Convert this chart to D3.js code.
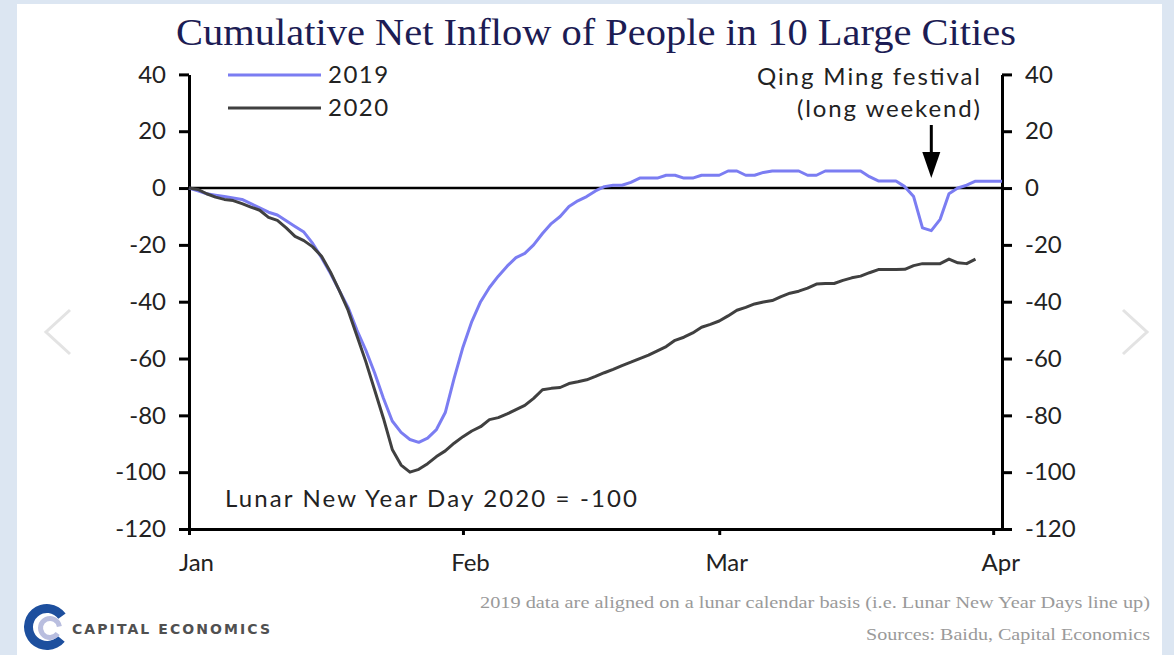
<!DOCTYPE html>
<html>
<head>
<meta charset="utf-8">
<script src="https://cdn.jsdelivr.net/npm/d3@7.9.0/dist/d3.min.js"></script>
<style>
  html, body { margin: 0; padding: 0; background: #dce6f2; }
  svg { display: block; }
</style>
</head>
<body>
<svg id="chart" width="1174" height="655"></svg>
<script>
// Data (cumulative net inflow, index: Lunar New Year Day 2020 = -100), one value per day from 1 Jan
const series2019 = [
  0, -1, -2, -2.5, -3, -3.5, -4, -5.5, -7, -8.5,
  -9.5, -11.5, -13.5, -15.5, -19.5, -24.5, -30, -36, -42, -50,
  -57, -65, -74, -82, -86, -88.5, -89.5, -88, -85, -79,
  -67, -56, -47, -40, -35, -31, -27.5, -24.5, -23, -20,
  -16, -12.5, -10, -6.5, -4.5, -3, -1, 0.5, 1, 1,
  2, 3.5, 3.5, 3.5, 4.5, 4.5, 3.5, 3.5, 4.5, 4.5,
  4.5, 6, 6, 4.5, 4.5, 5.5, 6, 6, 6, 6,
  4.5, 4.5, 6, 6, 6, 6, 6, 4, 2.5, 2.5,
  2.5, 0.5, -3, -14, -15, -11, -2, 0, 1, 2.4,
  2.4, 2.4, 2.4
];
const series2020 = [
  0, -0.5, -2, -3.2, -4, -4.4, -5.5, -6.7, -7.8, -10.3,
  -11.4, -14, -17, -18.5, -20.7, -24, -29.5, -36, -43, -52,
  -61, -71, -81, -92, -97.5, -100, -99, -97, -94.5, -92.5,
  -89.8, -87.5, -85.5, -84, -81.5, -80.8, -79.5, -78, -76.5, -74,
  -71, -70.5, -70.2, -68.8, -68.2, -67.5, -66.3, -65, -63.8, -62.5,
  -61.3, -60, -58.8, -57.3, -55.8, -53.6, -52.5, -51, -49, -48,
  -46.8, -45, -43, -42, -40.8, -40.1, -39.6, -38.2, -37, -36.3,
  -35.2, -33.8, -33.6, -33.6, -32.5, -31.6, -31, -29.8, -28.7, -28.7,
  -28.7, -28.6, -27.3, -26.6, -26.6, -26.6, -25, -26.3, -26.6, -25
];
const seriesNames = ["2019", "2020"];
const seriesColors = ["#7b7df2", "#404040"];
const yTicks = [40, 20, 0, -20, -40, -60, -80, -100, -120];
const monthLabels = ["Jan", "Feb", "Mar", "Apr"];
const qingMingDay = 84;

const svg = d3.select("#chart");
const W = 1174, H = 655;
const plotLeft = 189, plotRight = 1002, plotTop = 74.4, plotBottom = 529;
const axisFont = "Lato, 'Open Sans', sans-serif";
const serifFont = "'Liberation Serif', 'DejaVu Serif', serif";

// white panel
svg.append("rect").attr("x", 17).attr("y", 4).attr("width", 1145).attr("height", H - 4).attr("fill", "#fff");

// carousel chevrons
const chev = svg.append("g").attr("fill", "none").attr("stroke", "#e3e3e3").attr("stroke-width", 3);
chev.append("path").attr("d", "M70,310 L46,332 L70,354");
chev.append("path").attr("d", "M1123,310 L1147,332 L1123,354");

const start = new Date(2020, 0, 1);
const day = i => d3.timeDay.offset(start, i);

const x = d3.scaleTime().domain([start, day(92)]).range([plotLeft, plotRight]);
const y = d3.scaleLinear().domain([-120, 40]).range([plotBottom, plotTop]);

// title
svg.append("text")
  .attr("x", 596).attr("y", 45)
  .attr("text-anchor", "middle")
  .attr("font-family", serifFont)
  .attr("font-size", 37)
  .attr("fill", "#1c1c54")
  .attr("textLength", 840)
  .attr("lengthAdjust", "spacingAndGlyphs")
  .text("Cumulative Net Inflow of People in 10 Large Cities");

// axes
const fmt = d => String(d);
const yl = svg.append("g").attr("transform", `translate(${plotLeft},0)`)
  .call(d3.axisLeft(y).tickValues(yTicks).tickFormat(fmt).tickSizeInner(10).tickSizeOuter(0).tickPadding(13));
const yr = svg.append("g").attr("transform", `translate(${plotRight},0)`)
  .call(d3.axisRight(y).tickValues(yTicks).tickFormat(fmt).tickSizeInner(10).tickSizeOuter(0).tickPadding(13));
const xa = svg.append("g").attr("transform", `translate(0,${plotBottom})`)
  .call(d3.axisBottom(x)
    .tickValues(monthLabels.map((m, i) => d3.timeMonth.offset(start, i)))
    .tickFormat((d, i) => monthLabels[i])
    .tickSizeInner(6).tickSizeOuter(0));

[yl, yr, xa].forEach(g => {
  g.select(".domain").attr("stroke", "#000").attr("stroke-width", 3);
  g.selectAll(".tick line").attr("stroke", "#000").attr("stroke-width", 3);
  g.selectAll("text").attr("font-family", axisFont).attr("font-size", 24).attr("fill", "#222");
});
xa.selectAll(".tick text").attr("y", 25).attr("dx", 7);

// zero line
svg.append("line")
  .attr("x1", plotLeft).attr("x2", plotRight)
  .attr("y1", y(0)).attr("y2", y(0))
  .attr("stroke", "#000").attr("stroke-width", 2.5);

// lines
const line = d3.line().x((d, i) => x(day(i))).y(d => y(d));
[series2019, series2020].forEach((s, k) => {
  svg.append("path")
    .datum(s)
    .attr("d", line)
    .attr("fill", "none")
    .attr("stroke", seriesColors[k])
    .attr("stroke-width", 3)
    .attr("stroke-linejoin", "round");
});

// legend
seriesNames.forEach((name, k) => {
  const ly = 75 + k * 33;
  svg.append("line").attr("x1", 228).attr("x2", 321).attr("y1", ly).attr("y2", ly)
    .attr("stroke", seriesColors[k]).attr("stroke-width", 3);
  svg.append("text").attr("x", 328).attr("y", ly).attr("dy", "0.35em")
    .attr("font-family", axisFont).attr("font-size", 24).attr("fill", "#222")
    .attr("letter-spacing", 1.5)
    .text(name);
});

// Qing Ming annotation
const ax = x(day(qingMingDay));
svg.append("text").attr("x", 980).attr("y", 85).attr("text-anchor", "end")
  .attr("font-family", axisFont).attr("font-size", 24).attr("fill", "#222")
  .attr("textLength", 223).attr("lengthAdjust", "spacing")
  .text("Qing Ming festival");
svg.append("text").attr("x", 980).attr("y", 117).attr("text-anchor", "end")
  .attr("font-family", axisFont).attr("font-size", 24).attr("fill", "#222")
  .attr("textLength", 183).attr("lengthAdjust", "spacing")
  .text("(long weekend)");
svg.append("line").attr("x1", ax).attr("x2", ax).attr("y1", 125).attr("y2", 155)
  .attr("stroke", "#000").attr("stroke-width", 3);
svg.append("path")
  .attr("d", `M${ax - 9},152 L${ax + 9},152 L${ax},178 Z`)
  .attr("fill", "#000");

// note inside chart
svg.append("text").attr("x", 225).attr("y", 507)
  .attr("font-family", axisFont).attr("font-size", 24).attr("fill", "#222")
  .attr("textLength", 412).attr("lengthAdjust", "spacing")
  .text("Lunar New Year Day 2020 = -100");

// footnotes
svg.append("text").attr("x", 1150).attr("y", 608).attr("text-anchor", "end")
  .attr("font-family", serifFont).attr("font-size", 17).attr("fill", "#9a9a9a")
  .attr("textLength", 670).attr("lengthAdjust", "spacingAndGlyphs")
  .text("2019 data are aligned on a lunar calendar basis (i.e. Lunar New Year Days line up)");
svg.append("text").attr("x", 1150).attr("y", 640).attr("text-anchor", "end")
  .attr("font-family", serifFont).attr("font-size", 17).attr("fill", "#9a9a9a")
  .attr("textLength", 284).attr("lengthAdjust", "spacingAndGlyphs")
  .text("Sources: Baidu, Capital Economics");

// logo
const logo = svg.append("g").attr("transform", "translate(47,627)");
const arc = d3.arc();
logo.append("path")
  .attr("d", arc({ innerRadius: 14, outerRadius: 23, startAngle: Math.PI * 0.72, endAngle: Math.PI * 2.3 }))
  .attr("fill", "#1d4f9e");
logo.append("path")
  .attr("transform", "translate(3,1)")
  .attr("d", arc({ innerRadius: 7, outerRadius: 12, startAngle: Math.PI * 0.7, endAngle: Math.PI * 2.45 }))
  .attr("fill", "#b9bedf");
svg.append("text").attr("x", 72).attr("y", 634)
  .attr("font-family", "'DejaVu Sans', sans-serif").attr("font-weight", "bold")
  .attr("font-size", 14).attr("fill", "#505050")
  .attr("textLength", 198).attr("lengthAdjust", "spacing")
  .text("CAPITAL ECONOMICS");
</script>
</body>
</html>
